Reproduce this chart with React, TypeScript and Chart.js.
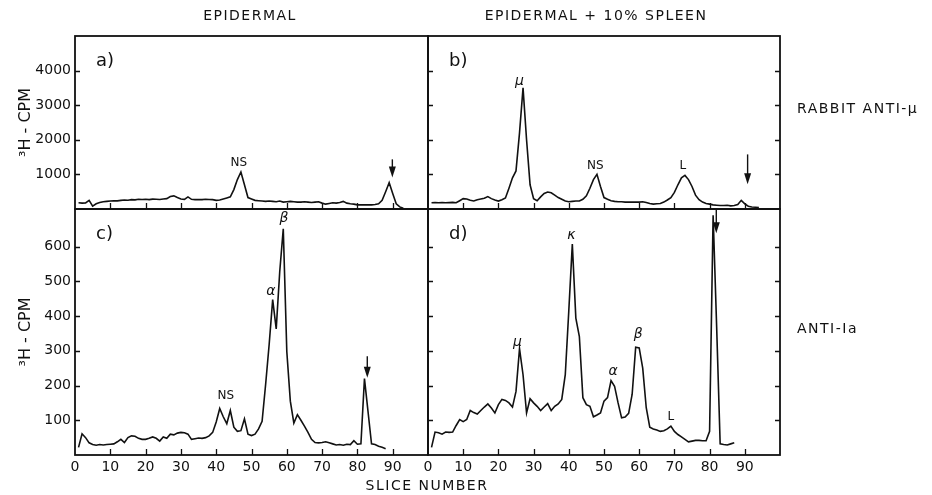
import React, { useEffect, useRef } from "react";
import { Chart, registerables } from "chart.js";
Chart.register(...registerables);

const W = 932;
const H = 495;
const FONT = "'DejaVu Sans', Verdana, sans-serif";
const INK = "#111";

// ---- data (value per slice, slice number = position + 1) ----
const epidermalAntiMu = [
  180, 170, 175, 250, 80, 150, 190, 210, 220, 230, 240, 235, 250, 260, 255, 270, 265, 280, 275, 280,
  270, 285, 280, 275, 290, 300, 360, 380, 330, 290, 280, 350, 280, 270, 275, 270, 280, 275, 270, 250,
  260, 290, 320, 350, 560, 850, 1070, 700, 330, 290, 250, 240, 230, 220, 230, 220, 210, 230, 200, 210,
  220, 210, 200, 200, 210, 200, 190, 200, 210, 170, 140, 160, 180, 170, 190, 220, 170, 150, 140, 120,
  120, 120, 120, 120, 130, 150, 250, 500, 760, 450, 150, 60, 20,
];
const spleenAntiMu = [
  180, 185, 180, 185, 180, 185, 190, 180, 240, 300, 290, 250, 230, 270, 290, 310, 360, 300, 260, 230,
  270, 320, 600, 900, 1100, 2200, 3500, 2000, 700, 300, 240, 350, 450, 490, 470, 400, 330, 280, 230, 210,
  220, 230, 230, 280, 380, 600, 850, 1000, 650, 330, 280, 240, 220, 210, 210, 200, 200, 200, 200, 200,
  210, 190, 160, 140, 150, 160, 200, 260, 330, 480, 700, 900, 970, 850, 650, 400, 270, 200, 160, 140,
  120, 110, 100, 100, 110, 90, 100, 130, 250, 150, 80, 60, 50, 40,
];
const epidermalAntiIa = [
  22, 61, 50, 35, 30, 28, 30, 29, 30, 31, 32, 38, 45, 36, 50, 55, 54, 48, 45, 45,
  48, 52, 48, 40, 52, 48, 60, 58, 63, 65, 64, 60, 45, 47, 49, 48, 50, 55, 65, 95,
  134, 110, 90, 128, 80, 68, 70, 104, 60, 56, 60, 75, 97, 203, 318, 447, 363, 528, 651, 298,
  155, 92, 116, 100, 83, 65, 45, 36, 35, 36, 38, 35, 32, 29, 30, 28, 31, 30, 41, 31,
  32, 220, 126, 32, 30, 25, 22, 18,
];
const spleenAntiIa = [
  22, 66, 64, 60, 66, 65, 66, 85, 102, 96, 102, 128, 122, 118, 128, 138, 147, 135, 121, 145,
  160, 157, 150, 138, 183, 306, 231, 121, 162, 150, 140, 128, 138, 148, 128, 140, 147, 160, 231, 415,
  607, 394, 341, 165, 145, 140, 110, 115, 121, 155, 165, 214, 198, 150, 107, 109, 120, 175, 310, 308,
  250, 136, 80, 75, 72, 68, 70, 75, 83, 68, 59, 52, 45, 38, 40, 42, 42, 41, 41, 68,
  690, 370, 32, 30, 29, 32, 35,
];

const xTicks = [0, 10, 20, 30, 40, 50, 60, 70, 80, 90];
const xTickLabels = ["0", "10", "20", "30", "40", "50", "60", "70", "80", "90"];
const yTicksTop = [1000, 2000, 3000, 4000];
const yTicksBottom = [100, 200, 300, 400, 500, 600];

// peak labels: [slice, value, text]
const labelsA: [number, number, string][] = [[46.4, 1347, "NS"]];
const labelsB: [number, number, string][] = [[26, 3683, "μ"], [47.5, 1260, "NS"], [72.4, 1260, "L"]];
const labelsC: [number, number, string][] = [[42.7, 171, "NS"], [55.5, 470, "α"], [59.2, 680, "β"]];
const labelsD: [number, number, string][] = [[25.4, 323, "μ"], [40.7, 631, "κ"], [52.6, 240, "α"], [59.7, 346, "β"], [69, 111, "L"]];
// arrows: [slice, fromValue, toValue]
const arrowsA: [number, number, number][] = [[89.9, 1435, 914]];
const arrowsB: [number, number, number][] = [[90.8, 1578, 712]];
const arrowsC: [number, number, number][] = [[82.8, 284, 222]];
const arrowsD: [number, number, number][] = [[81.9, 705, 638]];

type PanelProps = {
  values: number[];
  yMax: number;
  yTicks: number[];
  box: [number, number, number, number];
  showX: boolean;
  showY: boolean;
  rightTicks: boolean;
  letter: string;
  labels: [number, number, string][];
  arrows: [number, number, number][];
};

function Panel(p: PanelProps) {
  const ref = useRef<HTMLCanvasElement>(null);
  useEffect(() => {
    if (!ref.current) return;
    const [L, T, R, B] = p.box;
    const xAxisH = 30;
    const decor = {
      id: "decor",
      afterDatasetsDraw(chart: any) {
        const { ctx, chartArea: a, scales } = chart;
        const xs = scales.x;
        const ys = scales.y;
        ctx.save();
        ctx.strokeStyle = INK;
        ctx.fillStyle = INK;
        ctx.lineWidth = 1.8;
        ctx.strokeRect(a.left, a.top, a.right - a.left, a.bottom - a.top);
        ctx.lineWidth = 1.3;
        ctx.beginPath();
        for (const t of ys.ticks) {
          const py = Math.round(ys.getPixelForValue(t.value)) + 0.5;
          ctx.moveTo(a.left, py);
          ctx.lineTo(a.left + 5, py);
          if (p.rightTicks) {
            ctx.moveTo(a.right, py);
            ctx.lineTo(a.right - 5, py);
          }
        }
        for (const t of xs.ticks) {
          if (t.value === 0) continue;
          const px = Math.round(xs.getPixelForValue(t.value)) + 0.5;
          ctx.moveTo(px, a.bottom);
          ctx.lineTo(px, a.bottom - 6);
        }
        ctx.stroke();
        // peak labels
        ctx.textAlign = "center";
        ctx.textBaseline = "middle";
        for (const [s, v, txt] of p.labels) {
          const greek = /[μαβκ]/.test(txt);
          ctx.font = greek ? `italic 14px ${FONT}` : `12px ${FONT}`;
          ctx.fillText(txt, xs.getPixelForValue(s), ys.getPixelForValue(v));
        }
        // arrows
        for (const [s, v0, v1] of p.arrows) {
          const px = xs.getPixelForValue(s);
          const y0 = ys.getPixelForValue(v0);
          const y1 = ys.getPixelForValue(v1);
          ctx.lineWidth = 1.4;
          ctx.beginPath();
          ctx.moveTo(px, y0);
          ctx.lineTo(px, y1 - 6);
          ctx.stroke();
          ctx.beginPath();
          ctx.moveTo(px - 3.5, y1 - 11);
          ctx.lineTo(px + 3.5, y1 - 11);
          ctx.lineTo(px, y1);
          ctx.closePath();
          ctx.fill();
        }
        // panel letter
        ctx.font = `18px ${FONT}`;
        ctx.textAlign = "left";
        ctx.fillText(p.letter, a.left + 21, a.top + 25);
        ctx.restore();
      },
    };
    const chart = new Chart(ref.current, {
      type: "line",
      data: {
        datasets: [
          {
            data: p.values.map((v, i) => ({ x: i + 1, y: v })),
            borderColor: INK,
            borderWidth: 1.6,
            pointRadius: 0,
            tension: 0,
            fill: false,
          },
        ],
      },
      options: {
        animation: false,
        responsive: false,
        maintainAspectRatio: false,
        layout: {
          padding: {
            left: p.showY ? 0 : L,
            top: T,
            right: W - R,
            bottom: p.showX ? H - B - xAxisH : H - B,
          },
        },
        plugins: { legend: { display: false }, tooltip: { enabled: false } },
        scales: {
          x: {
            type: "linear",
            min: 0,
            max: 100,
            afterBuildTicks: (s: any) => {
              s.ticks = xTicks.map((v) => ({ value: v }));
            },
            afterFit: (s: any) => {
              s.height = p.showX ? xAxisH : 0;
            },
            grid: { display: false, drawTicks: false },
            border: { display: false },
            ticks: {
              display: p.showX,
              autoSkip: false,
              maxRotation: 0,
              padding: 4,
              color: INK,
              font: { family: FONT, size: 14 },
              callback: (v: any) => xTickLabels[xTicks.indexOf(Number(v))] ?? "",
            },
          },
          y: {
            type: "linear",
            min: 0,
            max: p.yMax,
            afterBuildTicks: (s: any) => {
              s.ticks = p.yTicks.map((v) => ({ value: v }));
            },
            afterFit: (s: any) => {
              s.width = p.showY ? L : 0;
            },
            grid: { display: false, drawTicks: false },
            border: { display: false },
            ticks: {
              display: p.showY,
              padding: 4,
              color: INK,
              font: { family: FONT, size: 14 },
              callback: (v: any) => String(v),
            },
            title: {
              display: p.showY,
              text: "³H - CPM",
              color: INK,
              font: { family: FONT, size: 16 },
              padding: { top: 16, bottom: 0 },
            },
          },
        },
      },
      plugins: [decor],
    } as any);
    return () => chart.destroy();
  }, []);
  return (
    <canvas
      ref={ref}
      width={W}
      height={H}
      style={{ position: "absolute", left: 0, top: 0, width: W, height: H }}
    />
  );
}

const txt: React.CSSProperties = {
  position: "absolute",
  fontFamily: FONT,
  fontSize: 14,
  letterSpacing: "1.5px",
  color: INK,
  whiteSpace: "nowrap",
  lineHeight: 1,
};

export default function App() {
  return (
    <div style={{ position: "absolute", left: 0, top: 0, width: W, height: H, background: "#fff", overflow: "hidden" }}>
      <Panel values={epidermalAntiMu} yMax={5000} yTicks={yTicksTop} box={[75, 36, 428, 209]} showX={false} showY={true} rightTicks={false} letter="a)" labels={labelsA} arrows={arrowsA} />
      <Panel values={spleenAntiMu} yMax={5000} yTicks={yTicksTop} box={[428, 36, 780, 209]} showX={false} showY={false} rightTicks={true} letter="b)" labels={labelsB} arrows={arrowsB} />
      <Panel values={epidermalAntiIa} yMax={708} yTicks={yTicksBottom} box={[75, 209, 428, 455]} showX={true} showY={true} rightTicks={false} letter="c)" labels={labelsC} arrows={arrowsC} />
      <Panel values={spleenAntiIa} yMax={708} yTicks={yTicksBottom} box={[428, 209, 780, 455]} showX={true} showY={false} rightTicks={true} letter="d)" labels={labelsD} arrows={arrowsD} />
      <div style={{ ...txt, left: 250, top: 15, transform: "translate(-50%, -50%)" }}>EPIDERMAL</div>
      <div style={{ ...txt, left: 596, top: 15, transform: "translate(-50%, -50%)" }}>EPIDERMAL + 10% SPLEEN</div>
      <div style={{ ...txt, left: 797, top: 108, transform: "translateY(-50%)" }}>RABBIT ANTI-μ</div>
      <div style={{ ...txt, left: 797, top: 328, transform: "translateY(-50%)" }}>ANTI-Ia</div>
      <div style={{ ...txt, left: 427, top: 485, transform: "translate(-50%, -50%)" }}>SLICE NUMBER</div>
    </div>
  );
}
